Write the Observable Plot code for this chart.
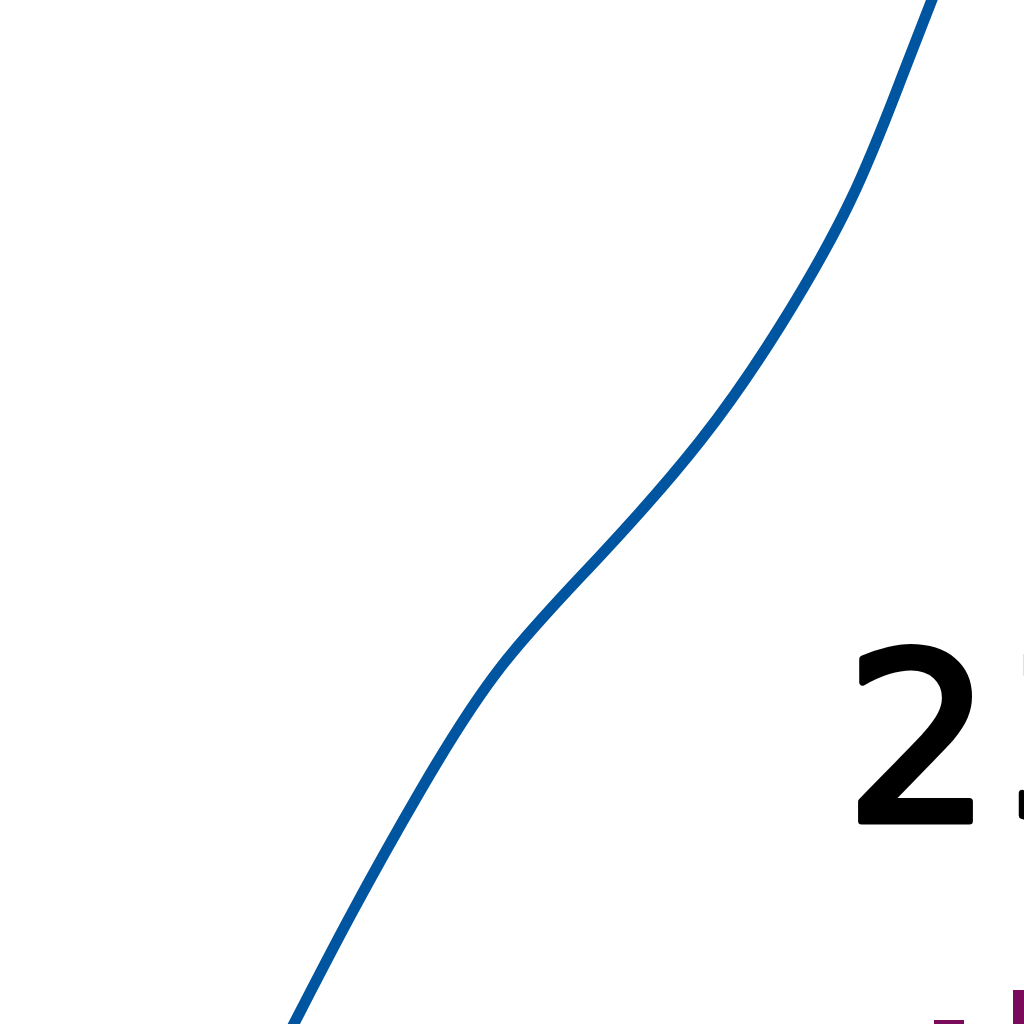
<!DOCTYPE html>
<html>
<head>
<meta charset="utf-8">
<script src="https://cdn.jsdelivr.net/npm/d3@7"></script>
<script src="https://cdn.jsdelivr.net/npm/@observablehq/plot@0.6"></script>
<style>
  html, body { margin: 0; padding: 0; background: #fff; }
</style>
</head>
<body>
<div id="chart"></div>
<script>
// curve points (zoomed-in window, units = original pixels)
const curveX = [29.0, 35.0, 42.0, 50.0, 60.0, 70.0, 78.0, 85.0, 90.0, 93.5];
const curveY = [-0.6, 10.9, 23.4, 35.7, 46.9, 58.4, 69.9, 82.4, 94.4, 103.4];

// label pieces
const labelText = ["2", "3"];
const labelX = [84.4, 100.4];
const labelY = [20.4, 20.4];

// purple bars cut by the frame
const barX1 = [93.4, 101.3];
const barX2 = [96.4, 103.0];
const barY1 = [-1.0, -1.0];
const barY2 = [0.4, 3.4];

const curve = curveX.map((x, i) => ({x, y: curveY[i]}));
const labels = labelText.map((t, i) => ({t, x: labelX[i], y: labelY[i]}));
const bars = barX1.map((x1, i) => ({x1, x2: barX2[i], y1: barY1[i], y2: barY2[i]}));

const chart = Plot.plot({
  width: 1024,
  height: 1024,
  margin: 0,
  x: {domain: [0, 102.4], axis: null},
  y: {domain: [0, 102.4], axis: null},
  style: {background: "#fff"},
  marks: [
    Plot.line(curve, {x: "x", y: "y", stroke: "#0055a0", strokeWidth: 11, curve: "natural", clip: true}),
    Plot.rect(bars, {x1: "x1", x2: "x2", y1: "y1", y2: "y2", fill: "#7a0b5b", clip: true}),
    Plot.text(labels, {x: "x", y: "y", text: "t", textAnchor: "start", lineAnchor: "bottom",
      fontSize: 233, fontFamily: "DejaVu Sans", fill: "black", stroke: "black", strokeWidth: 7, clip: true})
  ]
});

d3.select('#chart').append(() => chart);
</script>
</body>
</html>
